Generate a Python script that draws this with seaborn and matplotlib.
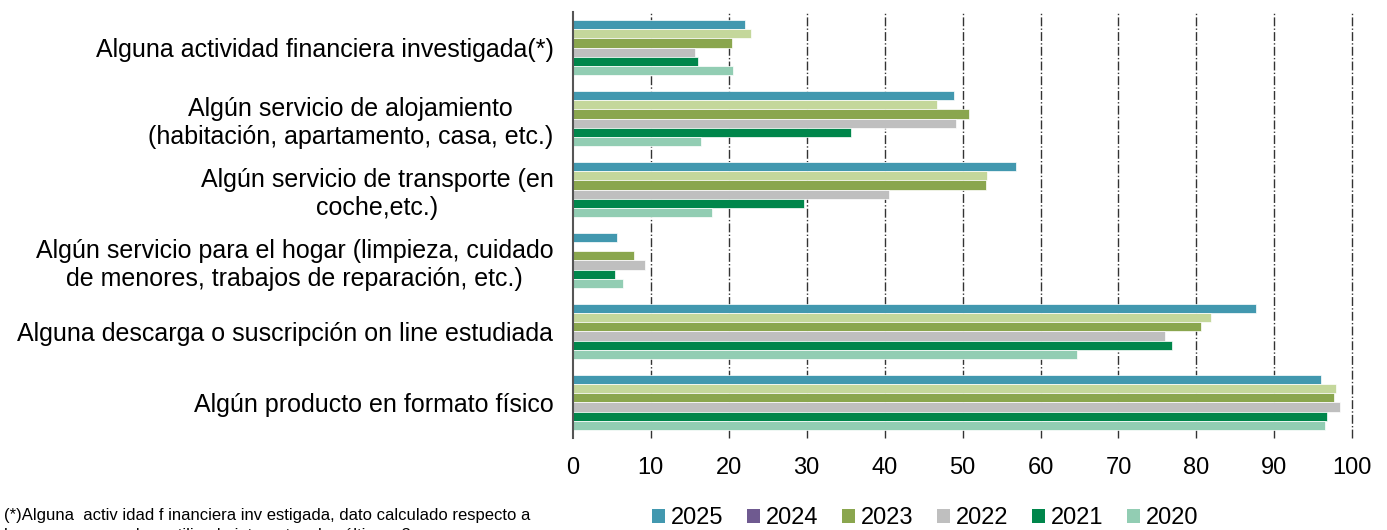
import pandas as pd
import matplotlib
matplotlib.use("Agg")
import matplotlib.pyplot as plt
import matplotlib.ticker as mticker
from matplotlib.patches import Patch
import seaborn as sns

# categorias (de arriba a abajo)
categorias = [
    "Alguna actividad financiera investigada(*)",
    "Algún servicio de alojamiento\n(habitación, apartamento, casa, etc.)",
    "Algún servicio de transporte (en\ncoche,etc.)",
    "Algún servicio para el hogar (limpieza, cuidado\nde menores, trabajos de reparación, etc.)",
    "Alguna descarga o suscripción on line estudiada",
    "Algún producto en formato físico",
]
anios = ["2025", "2024", "2023", "2022", "2021", "2020"]

v2025 = [22.1, 48.9, 56.9, 5.7, 87.7, 96.0]
v2024 = [22.8, 46.7, 53.1, None, 81.9, 97.9]
v2023 = [20.4, 50.8, 53.0, 7.9, 80.6, 97.7]
v2022 = [15.7, 49.1, 40.6, 9.2, 76.0, 98.4]
v2021 = [16.0, 35.7, 29.6, 5.4, 76.9, 96.7]
v2020 = [20.6, 16.4, 17.9, 6.5, 64.7, 96.5]

colores_barras = ["#4298AF", "#C4D79B", "#8AA64E", "#BFBFBF", "#00864B", "#92CDB3"]
colores_leyenda = ["#4298AF", "#6F5A90", "#8AA64E", "#BFBFBF", "#00864B", "#92CDB3"]

series = [v2025, v2024, v2023, v2022, v2021, v2020]
filas = []
for anio, vals in zip(anios, series):
    for cat, v in zip(categorias, vals):
        filas.append({"categoria": cat, "anio": anio, "valor": v})
df = pd.DataFrame(filas)

sns.set_style("white")
plt.rcParams["font.family"] = ["Liberation Sans", "DejaVu Sans"]
plt.rcParams["text.color"] = "black"

fig = plt.figure(figsize=(13.87, 5.30), dpi=100)
ax = fig.add_axes([0.413, 0.174, 0.562, 0.803])

sns.barplot(data=df, y="categoria", x="valor", hue="anio", order=categorias,
            hue_order=anios, palette=colores_barras, orient="h", width=0.78,
            saturation=1, edgecolor="white", linewidth=0.5, legend=False, ax=ax)

ax.set_xlim(0, 100)
ax.set_ylim(len(categorias) - 0.5, -0.5)
ax.set_xlabel("")
ax.set_ylabel("")

# rejilla vertical punto-raya
ax.xaxis.set_major_locator(mticker.MultipleLocator(10))
for x in range(10, 101, 10):
    ax.axvline(x, color="#333333", linestyle="-.", linewidth=1.0, zorder=0, clip_on=False)
ax.set_axisbelow(True)

# marcas del eje y en los limites de grupo, etiquetas en el centro
ax.set_yticks([i - 0.5 for i in range(len(categorias) + 1)])
ax.set_yticklabels([])
ax.set_yticks(range(len(categorias)), minor=True)
ax.set_yticklabels(categorias, minor=True, fontsize=18, color="black")
for lbl in ax.get_yticklabels(minor=True):
    lbl.set_ha("right")
    lbl.set_multialignment("center")
ax.tick_params(axis="y", which="major", length=7, width=1.2, color="#555555", direction="out")
ax.tick_params(axis="y", which="minor", length=0, pad=14)

ax.tick_params(axis="x", length=0, pad=14, labelcolor="black")
for lbl in ax.get_xticklabels():
    lbl.set_fontsize(17)

for s in ["top", "right", "bottom"]:
    ax.spines[s].set_visible(False)
ax.spines["left"].set_color("#555555")
ax.spines["left"].set_linewidth(1.5)

handles = [Patch(facecolor=c, edgecolor="none") for c in colores_leyenda]
fig.legend(handles, anios, loc="center", bbox_to_anchor=(0.667, 0.022), ncol=6,
           frameon=False, handlelength=0.55, handleheight=0.55, handletextpad=0.25,
           columnspacing=1.0, prop={"size": 17})

fig.text(0.003, 0.027, "(*)Alguna  activ idad f inanciera inv estigada, dato calculado respecto a",
         fontsize=12, ha="left", va="center")
fig.text(0.003, -0.01, "las personas que han utilizado internet en los últimos 3 meses",
         fontsize=12, ha="left", va="center")

fig.savefig("out.png", dpi=100)
